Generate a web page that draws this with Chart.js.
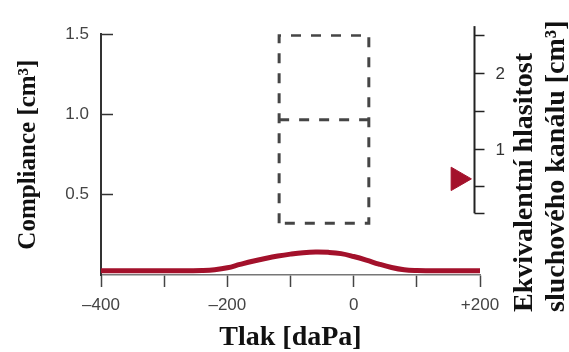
<!DOCTYPE html>
<html><head><meta charset="utf-8">
<script src="https://cdn.jsdelivr.net/npm/chart.js@4"></script>
<style>html,body{margin:0;padding:0;background:#fff;}canvas{display:block;}</style>
</head><body>
<canvas id="c" width="569" height="352"></canvas>
<script>
// ---- data ----
const pressure   = [-400,-380,-360,-340,-320,-300,-280,-260,-240,-220,-200,-180,-160,-140,-120,-100,-80,-60,-40,-20,0,20,40,60,80,100,120,140,160,180,200];
const compliance = [0.027,0.027,0.027,0.027,0.027,0.027,0.027,0.027,0.028,0.033,0.045,0.066,0.086,0.103,0.118,0.130,0.139,0.143,0.141,0.133,0.115,0.093,0.068,0.047,0.033,0.028,0.027,0.027,0.027,0.027,0.027];
const xTickValues  = [-400,-300,-200,-100,0,100,200];
const xTickLabels  = ['\u2013400','','\u2013200','','0','','+200'];
const leftTickValues = [0.5,1.0,1.5];
const leftTickLabels = ['0.5','1.0','1.5'];
const rightTickValues = [0.145,0.5,1,1.5,2,2.5];
const rightTickLabels = ['','','1','','2',''];
const rightAxisRange = [0.145,2.62];
const rightAxisAt = 190;
const volumeX = [165];
const volumeY = [0.6];
const boxOuterX = [-118,-118,24,24,-118];
const boxOuterY = [0.322,1.494,1.494,0.322,0.322];
const boxMidX = [-118,24];
const boxMidY = [0.967,0.967];
const leftTitle = 'Compliance [cm\u00B3]';
const bottomTitle = 'Tlak [daPa]';
const rightTitle = ['Ekvivalentn\u00ED hlasitost','sluchov\u00E9ho kan\u00E1lu [cm\u00B3]'];

const RED = '#a3112b';
const pts = (xs, ys) => xs.map((x,i)=>({x, y: ys[i]}));

const rightAxisPlugin = {
  id: 'rightAxis',
  afterDatasetsDraw(chart) {
    const ctx = chart.ctx, xs = chart.scales.x, y2 = chart.scales.y2;
    const ax = Math.round(xs.getPixelForValue(rightAxisAt)) + 0.5;
    ctx.save();
    ctx.strokeStyle = '#222'; ctx.lineWidth = 2;
    ctx.beginPath();
    ctx.moveTo(ax, y2.getPixelForValue(rightAxisRange[1]));
    ctx.lineTo(ax, y2.getPixelForValue(rightAxisRange[0]));
    ctx.stroke();
    ctx.lineWidth = 1.5;
    ctx.font = '17px "Liberation Sans", sans-serif';
    ctx.fillStyle = '#333'; ctx.textAlign = 'left'; ctx.textBaseline = 'middle';
    rightTickValues.forEach((v,i) => {
      const py = Math.round(y2.getPixelForValue(v)) + 0.5;
      ctx.beginPath(); ctx.moveTo(ax, py); ctx.lineTo(ax + 10, py); ctx.stroke();
      if (rightTickLabels[i]) ctx.fillText(rightTickLabels[i], ax + 21, py + 1);
    });
    // right title, rotated, reading upward
    ctx.fillStyle = '#111';
    ctx.font = 'bold 28px "Liberation Serif", serif';
    ctx.textAlign = 'left'; ctx.textBaseline = 'alphabetic';
    rightTitle.forEach((t,i) => {
      ctx.save();
      ctx.translate(chart.chartArea.right + 52 + i * 32, 312);
      ctx.rotate(-Math.PI/2);
      ctx.fillText(t, 0, 0);
      ctx.restore();
    });
    ctx.restore();
  }
};

new Chart(document.getElementById('c'), {
  data: {
    datasets: [
      { type: 'line', data: pts(pressure, compliance), borderColor: RED, borderWidth: 5, pointRadius: 0, tension: 0.4, yAxisID: 'y', clip: false, order: 1 },
      { type: 'line', data: pts(boxOuterX, boxOuterY), borderColor: '#454545', borderWidth: 3, borderDash: [10,10], pointRadius: 0, tension: 0, yAxisID: 'y', order: 2 },
      { type: 'line', data: pts(boxMidX, boxMidY), borderColor: '#454545', borderWidth: 3, borderDash: [10,10], pointRadius: 0, tension: 0, yAxisID: 'y', order: 2 },
      { type: 'scatter', data: pts(volumeX, volumeY), pointStyle: 'triangle', rotation: 90, radius: 13.5, backgroundColor: RED, borderColor: RED, borderWidth: 1, yAxisID: 'y2', clip: false, order: 0 }
    ]
  },
  options: {
    responsive: false, animation: false, events: [],
    layout: { padding: { left: 0, right: 89, top: 33, bottom: 0 } },
    plugins: { legend: { display: false }, tooltip: { enabled: false } },
    scales: {
      x: {
        type: 'linear', position: 'bottom', min: -400, max: 200,
        afterBuildTicks: s => { s.ticks = xTickValues.map(v => ({ value: v })); },
        afterFit: s => { s.height = 77; },
        border: { display: true, color: '#777', width: 1.5 },
        grid: { drawOnChartArea: false, drawTicks: true, tickLength: 12, tickColor: '#444', tickWidth: 1.5 },
        ticks: { autoSkip: false, maxRotation: 0, padding: 8, color: '#444',
                 font: { family: '"Liberation Sans", sans-serif', size: 17 },
                 callback: (v) => { const i = xTickValues.indexOf(v); return i >= 0 ? xTickLabels[i] : ''; } },
        title: { display: true, text: bottomTitle, color: '#111', padding: { top: 0, bottom: 0 },
                 font: { family: '"Liberation Serif", serif', size: 28, weight: 'bold', lineHeight: 1 } }
      },
      y: {
        type: 'linear', position: 'left', min: 0, max: 1.5,
        afterBuildTicks: s => { s.ticks = leftTickValues.map(v => ({ value: v })); },
        afterFit: s => { s.width = 101; },
        border: { display: true, color: '#333', width: 2 },
        grid: { drawOnChartArea: false, drawTicks: true, tickLength: -12, tickColor: '#333', tickWidth: 1.5 },
        ticks: { padding: 24, color: '#444', font: { family: '"Liberation Sans", sans-serif', size: 17 },
                 callback: (v) => { const i = leftTickValues.indexOf(v); return i >= 0 ? leftTickLabels[i] : ''; } },
        title: { display: true, text: leftTitle, color: '#111', padding: { top: 16, bottom: 0 },
                 font: { family: '"Liberation Serif", serif', size: 25, weight: 'bold', lineHeight: 1 } }
      },
      y2: { type: 'linear', position: 'right', display: false, min: -0.671, max: 2.513 }
    }
  },
  plugins: [rightAxisPlugin]
});
</script>
</body></html>
